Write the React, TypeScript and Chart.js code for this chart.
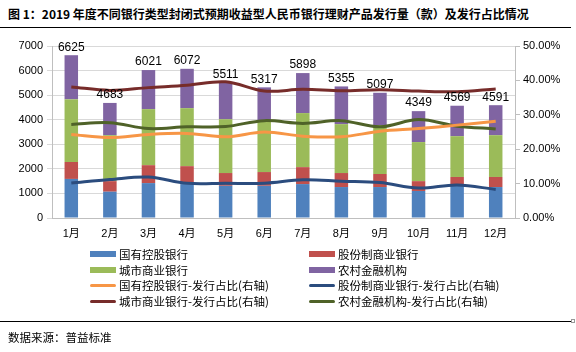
import React, { useEffect, useRef } from "react";
import { Chart, registerables } from "chart.js";

Chart.register(...registerables);

const months = ["1月", "2月", "3月", "4月", "5月", "6月", "7月", "8月", "9月", "10月", "11月", "12月"];
// issuance counts per bank type
const stateOwned = [1590, 1070, 1420, 1380, 1310, 1310, 1380, 1260, 1260, 1100, 1340, 1260];
const jointStock = [690, 430, 730, 730, 520, 560, 690, 570, 530, 400, 330, 410];
const cityComm = [2550, 1870, 2280, 2360, 2190, 2100, 2200, 1990, 1990, 1590, 1660, 1700];
const rural = [1795, 1313, 1591, 1602, 1491, 1347, 1628, 1535, 1317, 1259, 1239, 1221];
const totals = [6625, 4683, 6021, 6072, 5511, 5317, 5898, 5355, 5097, 4349, 4569, 4591];
// shares (right axis)
const stateShare = [0.243, 0.234, 0.243, 0.246, 0.236, 0.25, 0.238, 0.236, 0.252, 0.26, 0.27, 0.281];
const jointShare = [0.102, 0.112, 0.119, 0.101, 0.101, 0.101, 0.111, 0.107, 0.103, 0.087, 0.096, 0.083];
const cityShare = [0.381, 0.371, 0.379, 0.386, 0.396, 0.369, 0.374, 0.37, 0.373, 0.369, 0.367, 0.375];
const ruralShare = [0.272, 0.277, 0.26, 0.265, 0.266, 0.283, 0.275, 0.283, 0.265, 0.286, 0.267, 0.259];

const barLabels = ["国有控股银行", "股份制商业银行", "城市商业银行", "农村金融机构"];
const lineLabels = [
  "国有控股银行-发行占比(右轴)",
  "股份制商业银行-发行占比(右轴)",
  "城市商业银行-发行占比(右轴)",
  "农村金融机构-发行占比(右轴)",
];
const barColors = ["#4F81BD", "#C0504D", "#9BBB59", "#8064A2"];
const lineColors = ["#F79646", "#2B4C7E", "#772C2A", "#4F6228"];

const FONT = "'Liberation Sans', 'Noto Sans CJK SC', sans-serif";
const CJK = "'Noto Sans CJK SC', sans-serif";

export default function App() {
  const ref = useRef<HTMLCanvasElement | null>(null);

  useEffect(() => {
    document.body.style.margin = "0";
    const canvas = ref.current;
    if (!canvas) return;
    const barData = [stateOwned, jointStock, cityComm, rural];
    const lineData = [stateShare, jointShare, cityShare, ruralShare];

    const totalsPlugin = {
      id: "totals",
      afterDatasetsDraw(chart: any) {
        const ctx = chart.ctx;
        const idx = chart.data.datasets.findIndex((d: any) => d.label === barLabels[3]);
        const meta = chart.getDatasetMeta(idx);
        ctx.save();
        ctx.font = "12px " + FONT;
        ctx.fillStyle = "#000";
        ctx.textAlign = "center";
        ctx.textBaseline = "bottom";
        meta.data.forEach((el: any, i: number) => {
          ctx.fillText(String(totals[i]), el.x, el.y - 2);
        });
        ctx.restore();
      },
    };

    const chart = new Chart(canvas, {
      type: "bar",
      data: {
        labels: months,
        datasets: [
          ...lineData.map((d, i) => ({
            type: "line" as const,
            label: lineLabels[i],
            data: d,
            yAxisID: "y1",
            borderColor: lineColors[i],
            backgroundColor: lineColors[i],
            borderWidth: 3,
            pointRadius: 0,
            tension: 0.35,
            order: 0,
          })),
          ...barData.map((d, i) => ({
            type: "bar" as const,
            label: barLabels[i],
            data: d,
            yAxisID: "y",
            backgroundColor: barColors[i],
            barPercentage: 0.35,
            categoryPercentage: 1,
            order: 1,
          })),
        ],
      },
      options: {
        animation: false,
        responsive: false,
        maintainAspectRatio: false,
        layout: { padding: { left: 0, right: 0, top: 46, bottom: 104 } },
        plugins: { legend: { display: false }, tooltip: { enabled: false } },
        scales: {
          x: {
            stacked: true,
            grid: { display: false, drawTicks: false },
            border: { display: true, color: "#BFBFBF" },
            ticks: { font: { size: 11, family: FONT }, color: "#000", padding: 9 },
            afterFit(s: any) {
              s.height = 30;
            },
          },
          y: {
            stacked: true,
            position: "left",
            min: 0,
            max: 7000,
            ticks: {
              stepSize: 1000,
              font: { size: 11, family: FONT },
              color: "#000",
              padding: 4,
              callback: (v: any) => String(v),
            },
            grid: { color: "#D9D9D9", tickLength: 5 },
            border: { color: "#BFBFBF" },
            afterFit(s: any) {
              s.width = 52;
            },
          },
          y1: {
            position: "right",
            min: 0,
            max: 0.5,
            ticks: {
              stepSize: 0.1,
              font: { size: 11, family: FONT },
              color: "#000",
              padding: 3,
              callback: (v: any) => (Number(v) * 100).toFixed(2) + "%",
            },
            grid: { drawOnChartArea: false, color: "#BFBFBF", tickLength: 5 },
            border: { color: "#BFBFBF" },
            afterFit(s: any) {
              s.width = 61;
            },
          },
        },
      },
      plugins: [totalsPlugin],
    } as any);
    return () => chart.destroy();
  }, []);

  const legendItems = [
    { label: barLabels[0], color: barColors[0], bar: true },
    { label: barLabels[1], color: barColors[1], bar: true },
    { label: barLabels[2], color: barColors[2], bar: true },
    { label: barLabels[3], color: barColors[3], bar: true },
    { label: lineLabels[0], color: lineColors[0], bar: false },
    { label: lineLabels[1], color: lineColors[1], bar: false },
    { label: lineLabels[2], color: lineColors[2], bar: false },
    { label: lineLabels[3], color: lineColors[3], bar: false },
  ];

  return (
    <div style={{ position: "relative", width: 576, height: 352, overflow: "hidden", background: "#fff" }}>
      <div
        style={{
          position: "absolute",
          left: 8,
          top: 6,
          fontFamily: CJK,
          fontWeight: "bold",
          fontSize: 12,
          lineHeight: "16px",
          whiteSpace: "nowrap",
          color: "#000",
        }}
      >
        图 1：2019 年度不同银行类型封闭式预期收益型人民币银行理财产品发行量（款）及发行占比情况
      </div>
      <div style={{ position: "absolute", left: 0, top: 27, width: 571, height: 1, background: "#000" }} />
      <canvas ref={ref} width={576} height={352} style={{ position: "absolute", left: 0, top: 0 }} />
      {legendItems.map((it, i) => {
        const col = i % 2;
        const row = Math.floor(i / 2);
        const x = col === 0 ? 90 : 309;
        const y = 254 + row * 15.7;
        return (
          <div key={i} style={{ position: "absolute", left: x, top: y - 8, height: 16, display: "flex", alignItems: "center", whiteSpace: "nowrap" }}>
            <div
              style={{
                width: 26,
                height: it.bar ? 6 : 3,
                borderRadius: it.bar ? 0 : 2,
                background: it.color,
                marginRight: 3,
              }}
            />
            <span style={{ fontFamily: CJK, fontSize: 11.5, color: "#000", lineHeight: "16px" }}>{it.label}</span>
          </div>
        );
      })}
      <div style={{ position: "absolute", left: 0, top: 321, width: 571, height: 1, background: "#000" }} />
      <div style={{ position: "absolute", left: 571, top: 319, width: 4, height: 4, border: "1px solid #999", boxSizing: "border-box" }} />
      <div
        style={{
          position: "absolute",
          left: 8,
          top: 329,
          fontFamily: CJK,
          fontSize: 11.5,
          lineHeight: "16px",
          color: "#000",
          whiteSpace: "nowrap",
        }}
      >
        数据来源：普益标准
      </div>
    </div>
  );
}
